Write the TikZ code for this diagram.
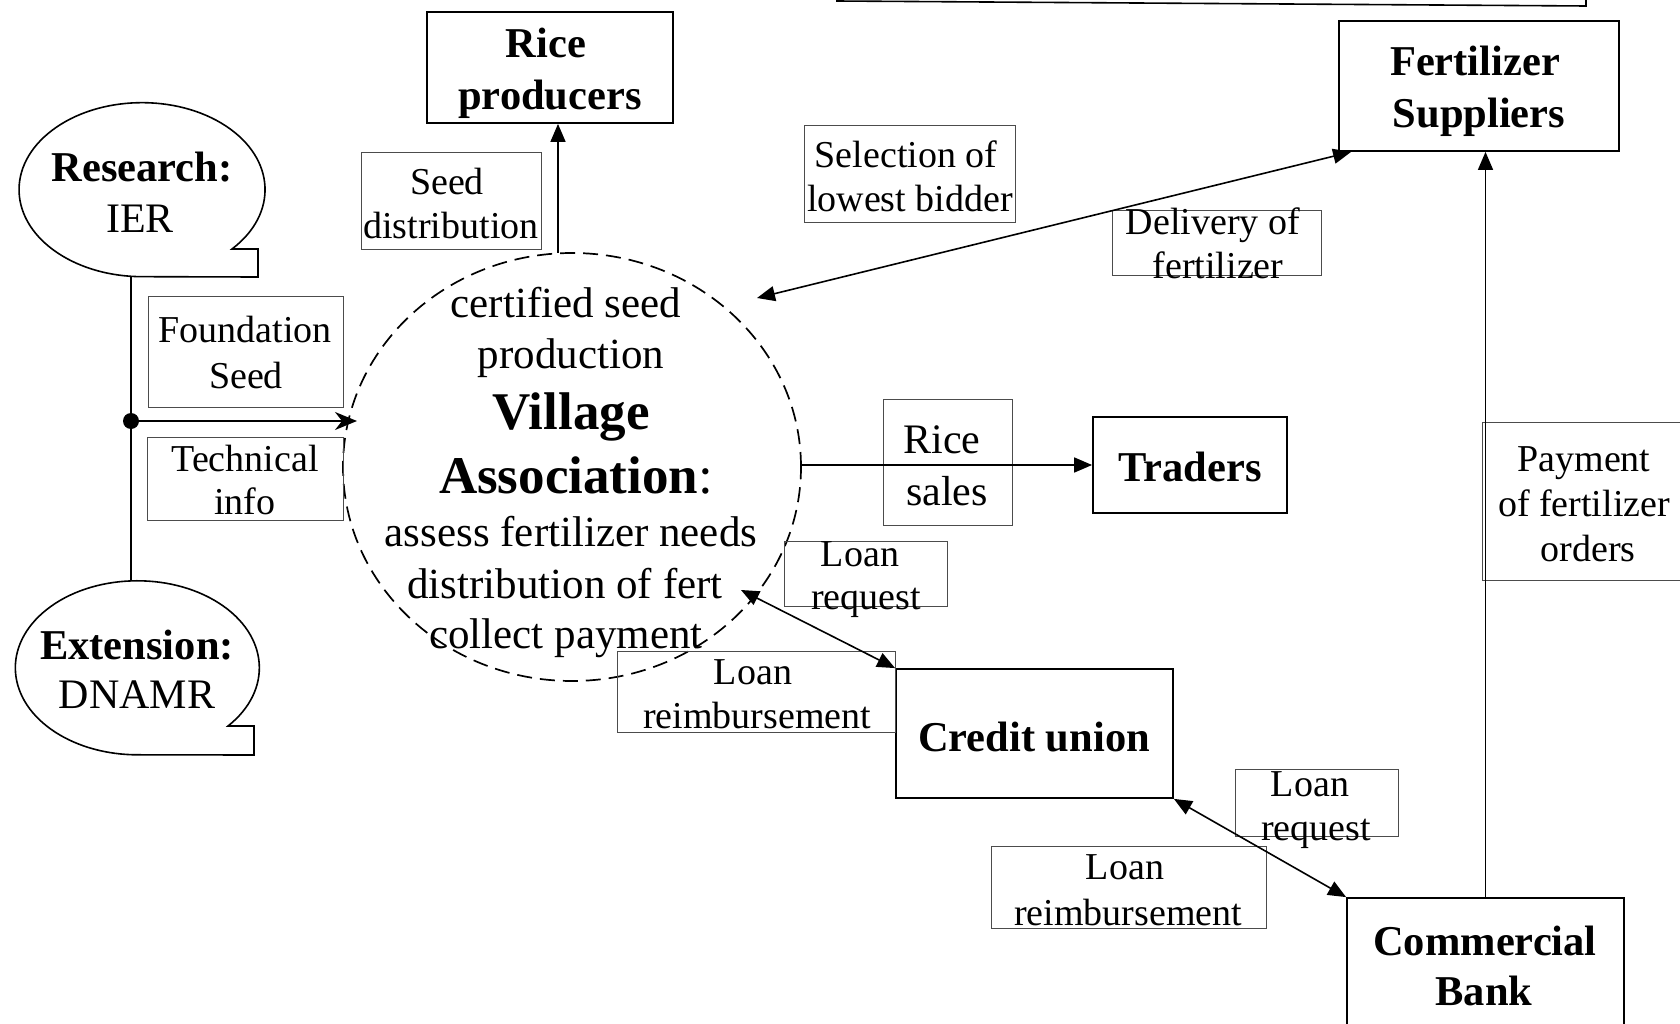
\documentclass[tikz,border=0pt]{standalone}
\usepackage{fontspec}
\setmainfont{Liberation Serif}
\usetikzlibrary{arrows.meta,calc,shapes.geometric}
\newcommand{\lblfont}{\fontsize{38}{45}\selectfont}
\newcommand{\entfont}{\fontsize{42.5}{50}\selectfont\bfseries}
\newcommand{\vafont}{\fontsize{43}{52}\selectfont}
\newcommand{\vabig}{\fontsize{53}{60}\selectfont}
\begin{document}
\begin{tikzpicture}[x=1pt,y=-1pt,
  ent/.style={draw, line width=1.8pt, inner sep=0pt},
  lbl/.style={draw=black!70, line width=1pt, inner sep=0pt},
  lt/.style={anchor=base, inner sep=0pt, font=\lblfont},
  et/.style={anchor=base, inner sep=0pt, font=\entfont},
  vt/.style={anchor=base, inner sep=0pt, font=\vafont},
  callout/.style={draw, line width=1.6pt},
  arr/.style={line width=1.6pt, -{Triangle[length=18pt,width=15pt]}},
  sarr/.style={line width=1.6pt, -{Stealth[length=22pt,width=18pt,inset=7pt]}},
  darr/.style={line width=1.6pt, {Triangle[length=18pt,width=15pt]}-{Triangle[length=18pt,width=15pt]}}]

\fill[white] (0,0) rectangle (1680,1024);
\clip (0,0) rectangle (1680,1024);

% partial frame along the top edge
\draw[line width=1.6pt] (836,1) -- (1586,6) -- (1586,-10);

% central village association
\node[ellipse, draw, dashed, dash pattern=on 15pt off 8pt, line width=1.7pt,
      minimum width=458pt, minimum height=428pt, inner sep=0pt] (va) at (572,467) {};
\node[vt] (v1) at (566,317) {certified seed};
\node[vt] (v2) at (571,368) {production};
\node[vt, font=\vabig\bfseries] (v3) at (571,429) {Village};
\node[vt, font=\vabig] (v4) at (576,493) {\textbf{Association}:};
\node[vt] (v5) at (571,546) {assess fertilizer needs};
\node[vt] (v6) at (565,598) {distribution of fert};
\node[vt] (v7) at (566,648) {collect payment};

% research and extension callouts
\draw[callout] (232,249) arc[start angle=43, end angle=-270, x radius=123, y radius=87]
  -- (258,277) -- (258,249) -- cycle;
\node[et] (res) at (142,182) {Research:};
\node[et, font=\fontsize{42}{50}\selectfont] (ier) at (140,233) {IER};
\draw[callout] (228,726) arc[start angle=42, end angle=-270, x radius=122, y radius=87]
  -- (254,755) -- (254,726) -- cycle;
\node[et] (ext) at (137,659) {Extension:};
\node[et, font=\fontsize{42}{50}\selectfont] (dna) at (137,708) {DNAMR};

\coordinate (resb) at (131,277);
\coordinate (extt) at (131,581);
\coordinate (jn) at (131,421);
\coordinate (vaL) at (357,421);
\draw[line width=1.6pt] (resb) -- (extt);
\fill (jn) circle[radius=8];
\draw[sarr] (jn) -- (vaL);

% entity boxes
\node[ent, minimum width=246pt, minimum height=111pt] (rp) at (550,67.5) {};
\node[et] (rp1) at (546,58) {Rice};
\node[et] (rp2) at (550,110) {producers};

\node[ent, minimum width=280pt, minimum height=130pt] (fs) at (1479,86) {};
\node[et] (fs1) at (1475,76) {Fertilizer};
\node[et] (fs2) at (1479,128) {Suppliers};

\node[ent, minimum width=194pt, minimum height=96pt] (tr) at (1190,465) {};
\node[et] (tr1) at (1190,481) {Traders};

\node[ent, minimum width=277pt, minimum height=129pt] (cu) at (1034.5,733.5) {};
\node[et] (cu1) at (1034,751) {Credit union};

\node[ent, minimum width=277pt, minimum height=200pt] (cb) at (1485.5,998) {};
\node[et] (cb1) at (1485,955) {Commercial};
\node[et] (cb2) at (1484,1005) {Bank};

% flow labels
\node[lbl, minimum width=180pt, minimum height=97pt] (bsd) at (451,201.5) {};
\node[lt] (sd1) at (447,195) {Seed};
\node[lt] (sd2) at (451,239) {distribution};

\node[lbl, minimum width=195pt, minimum height=111pt] (bfs) at (245.5,351.5) {};
\node[lt] (fd1) at (245,342) {Foundation};
\node[lt] (fd2) at (246,388) {Seed};

\node[lbl, minimum width=196pt, minimum height=83pt] (bti) at (245,478.5) {};
\node[lt] (ti1) at (245,471) {Technical};
\node[lt] (ti2) at (245,514) {info};

\node[lbl, minimum width=211pt, minimum height=97pt] (bsl) at (909.5,174.5) {};
\node[lt] (sl1) at (906,168) {Selection of};
\node[lt] (sl2) at (910,212) {lowest bidder};

\node[lbl, minimum width=209pt, minimum height=64pt] (bdf) at (1216.5,243) {};
\node[lt] (df1) at (1213,235) {Delivery of};
\node[lt] (df2) at (1218,278) {fertilizer};

\node[lbl, minimum width=129pt, minimum height=126pt] (brs) at (947.5,462) {};
\node[lt, font=\fontsize{42}{50}\selectfont] (rs1) at (942,453) {Rice};
\node[lt, font=\fontsize{42}{50}\selectfont] (rs2) at (947,505) {sales};

\node[lbl, minimum width=163pt, minimum height=65pt] (blr1) at (865.5,573.5) {};
\node[lt] (lr1a) at (860,566) {Loan};
\node[lt] (lr1b) at (866,609) {request};

\node[lbl, minimum width=278pt, minimum height=81pt] (blb1) at (756,691.5) {};
\node[lt] (lb1a) at (753,684) {Loan};
\node[lt] (lb1b) at (757,728) {reimbursement};

\node[lbl, minimum width=163pt, minimum height=67pt] (blr2) at (1316.5,802.5) {};
\node[lt] (lr2a) at (1310,796) {Loan};
\node[lt] (lr2b) at (1316,840) {request};

\node[lbl, minimum width=275pt, minimum height=82pt] (blb2) at (1128.5,887) {};
\node[lt] (lb2a) at (1125,879) {Loan};
\node[lt] (lb2b) at (1128,925) {reimbursement};

\node[lbl, minimum width=218pt, minimum height=158pt] (bpf) at (1591,501) {};
\node[lt] (pf1) at (1584,471) {Payment};
\node[lt] (pf2) at (1584,516) {of fertilizer};
\node[lt] (pf3) at (1588,561) {orders};

% flows
\coordinate (sd) at (558,253);
\draw[arr] (sd) -- (sd |- rp.south);

\coordinate (vaF) at (757,298);
\draw[darr] (vaF) -- ($(fs.south west)+(13,0)$);

\draw[arr] (va.east |- tr.west) -- (tr.west);

\coordinate (vaC) at (741,590);
\draw[darr] (vaC) -- (cu.north west);

\draw[darr] (cu.south east) -- (cb.north west);

\draw[arr] (cb.north) -- (cb.north |- fs.south);

\end{tikzpicture}
\end{document}
